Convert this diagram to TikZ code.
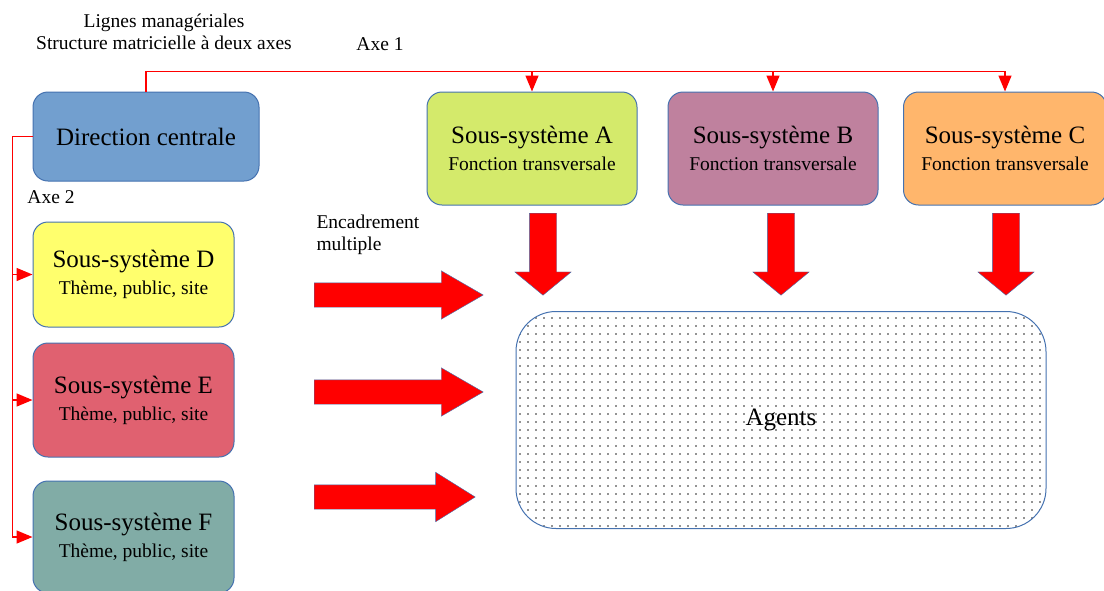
\documentclass[tikz,border=0pt]{standalone}
\usepackage{fontspec}
\setmainfont{Liberation Serif}
\usetikzlibrary{arrows.meta, positioning, shapes.arrows, patterns.meta}
\definecolor{cadrebleu}{HTML}{4572B0}
\definecolor{bleudir}{HTML}{729FCF}
\definecolor{vertA}{HTML}{D4EA6B}
\definecolor{mauveB}{HTML}{BF819E}
\definecolor{orangeC}{HTML}{FFB66C}
\definecolor{jauneD}{HTML}{FFFF6D}
\definecolor{rougeE}{HTML}{E06170}
\definecolor{vertF}{HTML}{81ACA6}
\newcommand{\grand}{\fontsize{25}{27}\selectfont}
\newcommand{\petit}{\fontsize{19.5}{22}\selectfont}
\tikzset{boite/.style={draw=cadrebleu, line width=1pt, rounded corners=15pt, align=center, inner sep=0pt, font=\grand}}
\tikzset{boitehaut/.style={boite, minimum width=210pt, minimum height=113pt}}
\tikzset{boitegauche/.style={boite, minimum width=201pt, minimum height=105pt}}
\tikzset{axe/.style={draw=red, line width=1.4pt, -{Triangle[length=16pt, width=13pt]}}}
\tikzset{flechedroite/.style={single arrow, draw=cadrebleu, fill=red, inner sep=0pt, inner ysep=12pt, minimum height=169pt, single arrow head extend=12pt, single arrow tip angle=60, anchor=tail}}
\tikzset{flechebas/.style={single arrow, draw=cadrebleu, fill=red, inner sep=0pt, inner ysep=13.5pt, minimum height=82pt, single arrow head extend=14.5pt, single arrow tip angle=101, rotate=-90, anchor=tail}}

\begin{document}
\begin{tikzpicture}[x=1pt, y=-1pt]
    \useasboundingbox (0,0) rectangle (1104,590);

    \node [align=center, font=\petit] (titre) at (164,32) {Lignes managériales\\Structure matricielle à deux axes};
    \node [font=\petit] (axeun) at (380,44) {Axe 1};
    \node [font=\petit] (axedeux) at (51,197) {Axe 2};
    \node [font=\petit, align=left, anchor=west] (encadrement) at (313,235) {Encadrement\\multiple};

    \node [boite, fill=bleudir, minimum width=226pt, minimum height=89pt] (dir) at (146,136.5) {Direction centrale};

    \node [boitehaut, fill=vertA] (A) at (532,148.5) {Sous-système A\\{\petit Fonction transversale}};
    \node [boitehaut, fill=mauveB] (B) at (773,148.5) {Sous-système B\\{\petit Fonction transversale}};
    \node [boitehaut, fill=orangeC, minimum width=203pt] (C) at (1005,148.5) {Sous-système C\\{\petit Fonction transversale}};

    \node [boitegauche, fill=jauneD] (D) at (133.5,274.5) {Sous-système D\\{\petit Thème, public, site}};
    \node [boitegauche, fill=rougeE, minimum height=114pt] (E) at (133.5,400) {Sous-système E\\{\petit Thème, public, site}};
    \node [boitegauche, fill=vertF, minimum height=112pt] (F) at (133.5,537) {Sous-système F\\{\petit Thème, public, site}};

    \node [draw=cadrebleu, line width=1pt, rounded corners=40pt, minimum width=530pt, minimum height=217pt, pattern={Dots[distance=8pt, radius=0.8pt]}, pattern color=black!85, font=\grand] (agents) at (781,420) {Agents};

    % axe 1
    \draw [axe] (dir.north) -- ++(0,-20) -| (A.north);
    \draw [axe] (dir.north) -- ++(0,-20) -| (B.north);
    \draw [axe] (dir.north) -- ++(0,-20) -| (C.north);

    % axe 2
    \draw [axe] (dir.west) -- ++(-20,0) |- (D.west);
    \draw [axe] (dir.west) -- ++(-20,0) |- (E.west);
    \draw [axe] (dir.west) -- ++(-20,0) |- (F.west);

    % encadrement multiple
    \node [flechedroite] (versD) at (314,295) {};
    \node [flechedroite] (versE) at (314,392) {};
    \node [flechedroite, minimum height=161pt, single arrow head extend=12.5pt, single arrow tip angle=64] (versF) at (314,497) {};

    \node [flechebas] (depuisA) at (543,213) {};
    \node [flechebas] (depuisB) at (781,213) {};
    \node [flechebas] (depuisC) at (1006,213) {};
\end{tikzpicture}
\end{document}
